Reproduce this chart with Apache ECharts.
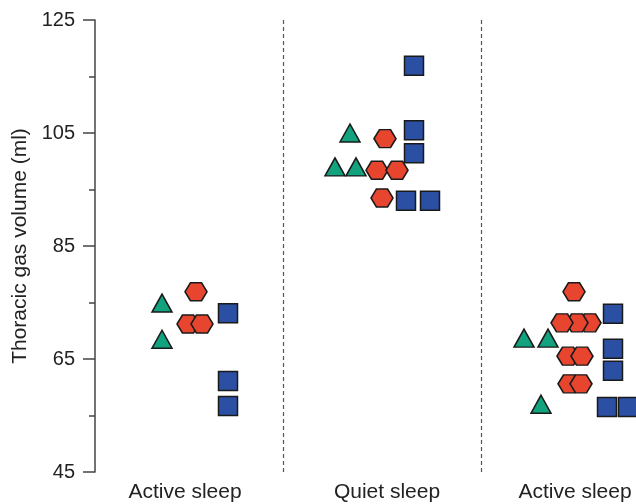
<!DOCTYPE html>
<html>
<head>
<meta charset="utf-8">
<script src="https://cdn.jsdelivr.net/npm/echarts@6/dist/echarts.min.js"></script>
<style>html,body{margin:0;padding:0;background:#fff}#c{width:636px;height:504px}</style>
</head>
<body>
<div id="c"></div>
<script>
// Category labels and their positions on the x scale
const categories = ['Active sleep', 'Quiet sleep', 'Active sleep'];
const categoryPos = [0, 1.01, 1.95];
const separators = [0.49, 1.48];

// Y axis ticks
const yMin = 45, yMax = 125, yStep = 20;

// Green triangles: [x position (category + jitter), thoracic gas volume]
const triangles = [
  [-0.115, 74.9], [-0.115, 68.5],
  [0.825, 105.0], [0.75, 99.0], [0.855, 99.0],
  [1.695, 68.7], [1.815, 68.7], [1.78, 57.0]
];
// Red hexagons
const hexagons = [
  [0.055, 76.9], [0.015, 71.2], [0.085, 71.2],
  [1.0, 104.0], [0.96, 98.4], [1.06, 98.4], [0.985, 93.5],
  [1.945, 76.9], [2.025, 71.4], [1.96, 71.4], [1.885, 71.4],
  [1.915, 65.5], [1.985, 65.5], [1.92, 60.6], [1.98, 60.6]
];
// Blue squares
const squares = [
  [0.215, 73.1], [0.215, 61.1], [0.215, 56.7],
  [1.145, 116.9], [1.145, 105.5], [1.145, 101.4], [1.105, 93.0], [1.225, 93.0],
  [2.14, 73.0], [2.14, 66.8], [2.14, 62.9], [2.11, 56.5], [2.215, 56.5]
];

const FONT = '"Liberation Sans", Arial, Helvetica, sans-serif';
const border = {borderColor: '#1a1a1a', borderWidth: 1.5};
const hexPath = 'path://M0,9 L5.5,0 L16.5,0 L22,9 L16.5,18 L5.5,18 Z';

const chart = echarts.init(document.getElementById('c'), null, {renderer: 'canvas'});
chart.setOption({
  animation: false,
  backgroundColor: '#ffffff',
  grid: {left: 95, right: 0, top: 20, bottom: 32, containLabel: false},
  xAxis: {
    type: 'value', min: -0.45, max: 2.255,
    axisLine: {show: false, onZero: false}, axisTick: {show: false}, splitLine: {show: false},
    axisLabel: {
      customValues: categoryPos,
      margin: 10,
      color: '#222', fontSize: 21, fontFamily: FONT,
      formatter: function (v) {
        let best = 0;
        categoryPos.forEach((p, i) => { if (Math.abs(p - v) < Math.abs(categoryPos[best] - v)) best = i; });
        return categories[best];
      }
    }
  },
  yAxis: {
    type: 'value', min: yMin, max: yMax, interval: yStep,
    name: 'Thoracic gas volume (ml)', nameLocation: 'middle', nameGap: 62,
    nameTextStyle: {color: '#222', fontSize: 21, fontFamily: FONT},
    axisLine: {show: true, onZero: false, lineStyle: {color: '#444', width: 1.5}},
    axisTick: {show: true, length: 12, lineStyle: {color: '#444', width: 1.5}},
    minorTick: {show: true, splitNumber: 2, length: 6, lineStyle: {color: '#444', width: 1.5}},
    splitLine: {show: false},
    axisLabel: {margin: 20, color: '#222', fontSize: 20, fontFamily: FONT}
  },
  series: [
    {
      type: 'scatter', data: triangles, symbol: 'triangle', symbolSize: [20, 18],
      itemStyle: Object.assign({color: '#12a27e', opacity: 1}, border),
      markLine: {
        silent: true, symbol: 'none', label: {show: false},
        lineStyle: {color: '#555', width: 1.2, type: [4, 3]},
        data: separators.map(x => ({xAxis: x}))
      }
    },
    {
      type: 'scatter', data: hexagons, symbol: hexPath, symbolSize: [22, 18],
      itemStyle: Object.assign({color: '#e8452f', opacity: 1}, border)
    },
    {
      type: 'scatter', data: squares, symbol: 'rect', symbolSize: [19, 19],
      itemStyle: Object.assign({color: '#2a4fa3', opacity: 1}, border)
    }
  ]
});
</script>
</body>
</html>
